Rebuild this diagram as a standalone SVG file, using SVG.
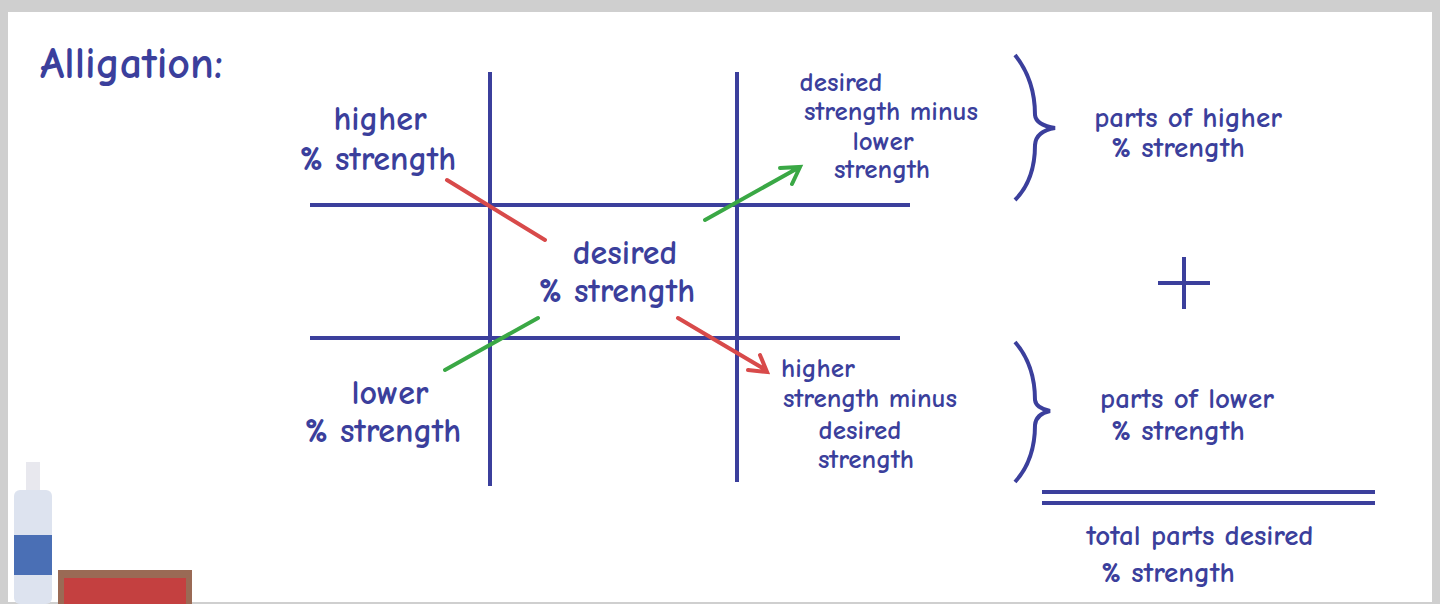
<svg xmlns="http://www.w3.org/2000/svg" width="1440" height="604" viewBox="0 0 1440 604">
<defs>
<style>
text{font-family:"Comic Neue","DejaVu Sans","Liberation Sans",sans-serif;fill:#3b3f9c;text-anchor:middle;font-weight:bold}
.t{font-size:34px}
.s{font-size:29px}
.r{font-size:27px}
.g{stroke:#3b3f9c;stroke-width:4;fill:none}
</style>
</defs>
<rect width="1440" height="604" fill="#cfcfcf"/>
<rect x="8" y="12" width="1424" height="590" fill="#fff"/>
<g id="grid" class="g">
<line x1="490" y1="72" x2="490" y2="486"/><line x1="737" y1="72" x2="737" y2="482"/>
<line x1="310" y1="205" x2="910" y2="205"/><line x1="310" y1="338" x2="900" y2="338"/>
</g>
<g id="connectors" stroke-width="4" fill="none" stroke-linecap="round">
<line x1="447" y1="180" x2="545" y2="240" stroke="#d84a4a"/>
<path d="M705,220 L798,168 M780,168 L800,167 L792,184" stroke="#3aa845"/>
<line x1="445" y1="370" x2="538" y2="318" stroke="#3aa845"/>
<path d="M678,318 L766,370 M748,370 L767,372 L760,355" stroke="#d84a4a"/>
</g>
<text x="40" y="78" style="font-size:44px;text-anchor:start">Alligation:</text>
<g id="higher"><text class="t" x="380" y="130">higher</text><text class="t" x="378" y="170">% strength</text></g>
<g id="desired"><text class="t" x="625" y="264">desired</text><text class="t" x="617" y="302">% strength</text></g>
<g id="lower"><text class="t" x="390" y="404">lower</text><text class="t" x="383" y="442">% strength</text></g>
<g id="dml"><text class="r" x="841" y="91">desired</text><text class="r" x="891" y="120">strength minus</text><text class="r" x="883" y="150">lower</text><text class="r" x="882" y="178">strength</text></g>
<g id="hmd"><text class="r" x="818" y="377">higher</text><text class="r" x="870" y="407">strength minus</text><text class="r" x="860" y="439">desired</text><text class="r" x="866" y="468">strength</text></g>
<g class="g" stroke-width="2.5">
<path d="M1015,55 Q1035,80 1035,115 Q1036,125 1055,128 Q1036,131 1035,145 Q1035,180 1015,200"/>
<path d="M1015,342 Q1035,365 1035,400 Q1036,408 1050,411 Q1036,414 1035,425 Q1035,460 1015,482"/>
</g>
<g id="poh"><text class="s" x="1188" y="127">parts of higher</text><text class="s" x="1178" y="157">% strength</text></g>
<g id="plus" class="g" stroke-width="9"><line x1="1158" y1="283" x2="1210" y2="283"/><line x1="1184" y1="257" x2="1184" y2="309"/></g>
<g id="pol"><text class="s" x="1187" y="408">parts of lower</text><text class="s" x="1178" y="440">% strength</text></g>
<g class="g"><line x1="1042" y1="492" x2="1375" y2="492"/><line x1="1042" y1="503" x2="1375" y2="503"/></g>
<g id="total"><text class="s" x="1200" y="545">total parts desired</text><text class="s" x="1168" y="582">% strength</text></g>
<g id="spray"><rect x="26" y="462" width="14" height="30" fill="#e8e8ee"/><rect x="14" y="490" width="38" height="114" rx="6" fill="#dde3ef"/><rect x="14" y="535" width="38" height="40" fill="#4a6fb5"/></g>
<g id="eraser"><rect x="58" y="570" width="134" height="34" fill="#9a6a55"/><rect x="64" y="578" width="122" height="26" fill="#c44040"/></g>
</svg>
